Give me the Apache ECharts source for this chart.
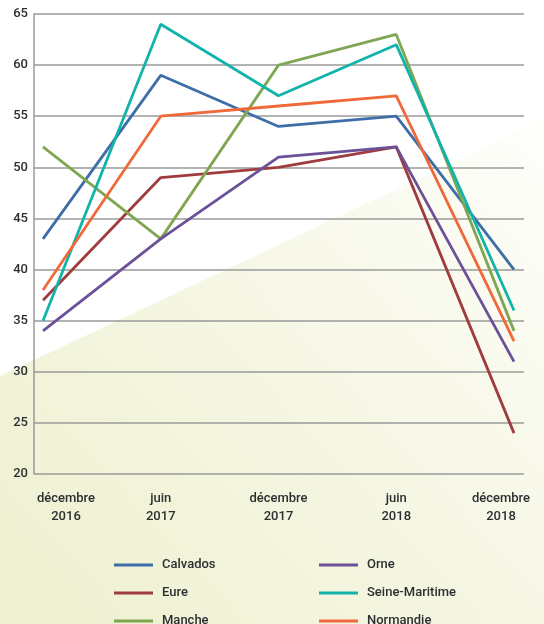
<!DOCTYPE html>
<html>
<head>
<meta charset="utf-8">
<script src="https://cdn.jsdelivr.net/npm/echarts@6/dist/echarts.min.js"></script>
<style>
  html, body { margin: 0; padding: 0; background: #fff; }
  #chart { width: 544px; height: 624px; }
</style>
</head>
<body>
<div id="chart"></div>
<script>
const periods = ['décembre\n2016', 'juin\n2017', 'décembre\n2017', 'juin\n2018', 'décembre\n2018']

const calvados = [43, 59, 54, 55, 40]
const eure = [37, 49, 50, 52, 24]
const manche = [52, 43, 60, 63, 34]
const orne = [34, 43, 51, 52, 31]
const seineMaritime = [35, 64, 57, 62, 36]
const normandie = [38, 55, 56, 57, 33]

const yMin = 20
const yMax = 65

const font = 'Roboto'
const textColor = '#2b2f31'

const colors = {
  'Calvados': '#3d6ea8',
  'Eure': '#a03c3e',
  'Manche': '#7ea653',
  'Orne': '#6b5197',
  'Seine-Maritime': '#12b3ab',
  'Normandie': '#f0693a'
}

function line(name, data) {
  return {
    name: name,
    type: 'line',
    xAxisIndex: 1,
    yAxisIndex: 1,
    data: data,
    symbol: 'none',
    lineStyle: { width: 2.8, color: colors[name] },
    itemStyle: { color: colors[name] },
    animation: false
  }
}

// one legend per item so the two columns line up like the original
function legendItem(name, left, centerY) {
  return {
    left: left,
    top: centerY - 8,
    padding: 0,
    itemWidth: 39,
    itemHeight: 3,
    icon: 'rect',
    textStyle: { color: textColor, fontSize: 13, lineHeight: 16, fontWeight: 500, fontFamily: font, padding: [0, 0, 0, 4] },
    data: [name]
  }
}

const chart = echarts.init(document.getElementById('chart'))

chart.setOption({
  backgroundColor: '#ffffff',
  textStyle: { fontFamily: font },
  graphic: [{
    type: 'polygon',
    z: -10,
    silent: true,
    shape: { points: [[0, 376], [544, 120], [544, 624], [0, 624]] },
    style: {
      fill: new echarts.graphic.LinearGradient(0, 1, 1, 0, [
        { offset: 0, color: '#eef0cf' },
        { offset: 0.55, color: '#f6f7e5' },
        { offset: 1, color: '#fefefb' }
      ])
    }
  }],
  grid: [
    { left: 34, right: 20, top: 14, bottom: 150, outerBoundsMode: 'none' },
    { left: 43, right: 30, top: 14, bottom: 150, outerBoundsMode: 'none' }
  ],
  xAxis: [
    { gridIndex: 0, type: 'category', data: periods, show: false },
    {
      gridIndex: 1,
      type: 'category',
      data: periods,
      boundaryGap: false,
      axisLine: { show: false },
      axisTick: { show: false },
      axisLabel: {
        color: textColor,
        fontSize: 13,
        fontWeight: 500,
        lineHeight: 18,
        margin: 16,
        fontFamily: font,
        interval: 0,
        formatter: function (value, index) {
          if (index === 0) return '{first|' + value.split('\n').join('}\n{first|') + '}'
          if (index === periods.length - 1) return '{last|' + value.split('\n').join('}\n{last|') + '}'
          return value
        },
        rich: {
          first: { padding: [0, 0, 0, 46], fontSize: 13, fontWeight: 500, lineHeight: 18, color: textColor, fontFamily: font },
          last: { padding: [0, 26, 0, 0], fontSize: 13, fontWeight: 500, lineHeight: 18, color: textColor, fontFamily: font }
        }
      }
    }
  ],
  yAxis: [
    {
      gridIndex: 0,
      type: 'value',
      min: yMin,
      max: yMax,
      interval: 5,
      axisLine: { show: true, lineStyle: { color: '#9a9a9a', width: 1.5 } },
      axisTick: { show: false },
      axisLabel: { color: textColor, fontSize: 13, fontWeight: 500, margin: 6, fontFamily: font },
      splitLine: { lineStyle: { color: '#9a9a9a', width: 1.5 } }
    },
    { gridIndex: 1, type: 'value', min: yMin, max: yMax, show: false }
  ],
  legend: [
    legendItem('Calvados', 114, 565),
    legendItem('Eure', 114, 593),
    legendItem('Manche', 114, 621),
    legendItem('Orne', 319, 565),
    legendItem('Seine-Maritime', 319, 593),
    legendItem('Normandie', 319, 621)
  ],
  series: [
    line('Calvados', calvados),
    line('Eure', eure),
    line('Manche', manche),
    line('Orne', orne),
    line('Seine-Maritime', seineMaritime),
    line('Normandie', normandie)
  ]
})
</script>
</body>
</html>
